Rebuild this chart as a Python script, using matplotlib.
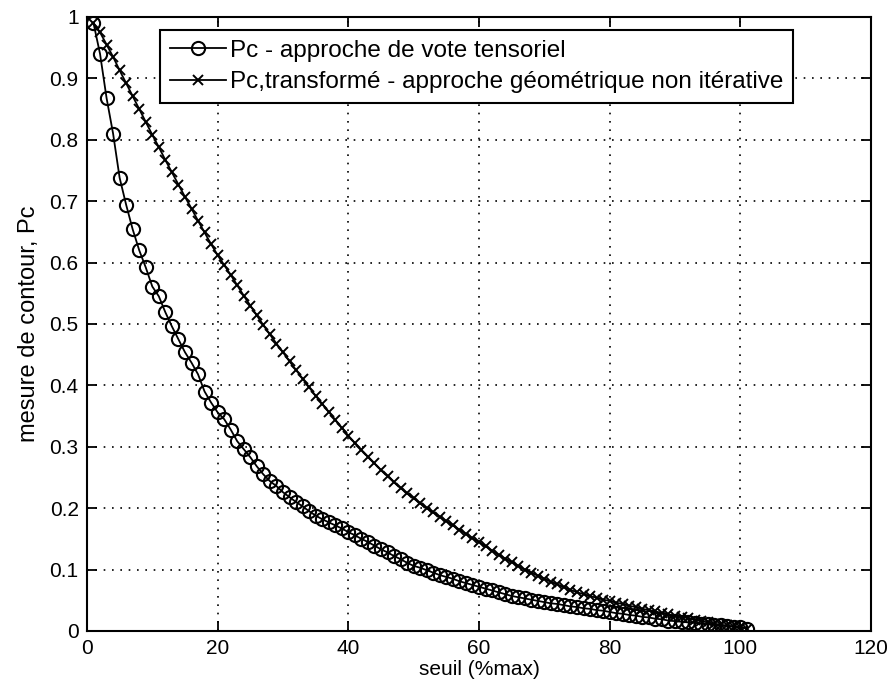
#!/usr/bin/env python3
import matplotlib
matplotlib.use('Agg')
import matplotlib.pyplot as plt

seuil = list(range(1, 102))

pc_vote = [
    0.990, 0.940, 0.868, 0.810, 0.738, 0.694, 0.654, 0.620, 0.592, 0.561,
    0.545, 0.519, 0.496, 0.475, 0.454, 0.437, 0.418, 0.390, 0.372, 0.356,
    0.345, 0.328, 0.309, 0.296, 0.283, 0.268, 0.255, 0.244, 0.236, 0.226,
    0.218, 0.210, 0.203, 0.195, 0.188, 0.182, 0.177, 0.172, 0.167, 0.161,
    0.156, 0.150, 0.145, 0.139, 0.133, 0.128, 0.122, 0.117, 0.111, 0.106,
    0.103, 0.099, 0.095, 0.091, 0.088, 0.085, 0.081, 0.078, 0.075, 0.072,
    0.069, 0.066, 0.063, 0.060, 0.057, 0.055, 0.053, 0.051, 0.049, 0.047,
    0.045, 0.044, 0.042, 0.040, 0.039, 0.037, 0.036, 0.034, 0.033, 0.031,
    0.029, 0.028, 0.026, 0.025, 0.023, 0.022, 0.020, 0.019, 0.017, 0.016,
    0.015, 0.014, 0.013, 0.012, 0.011, 0.010, 0.009, 0.008, 0.007, 0.006,
    0.004,
]

pc_geom = [
    0.990, 0.975, 0.955, 0.935, 0.913, 0.892, 0.871, 0.850, 0.829, 0.808,
    0.788, 0.767, 0.747, 0.727, 0.707, 0.688, 0.668, 0.649, 0.630, 0.612,
    0.596, 0.580, 0.563, 0.546, 0.530, 0.514, 0.498, 0.483, 0.468, 0.454,
    0.439, 0.425, 0.411, 0.397, 0.383, 0.370, 0.357, 0.344, 0.331, 0.318,
    0.306, 0.295, 0.284, 0.273, 0.262, 0.252, 0.242, 0.233, 0.224, 0.216,
    0.208, 0.200, 0.193, 0.186, 0.179, 0.172, 0.165, 0.158, 0.151, 0.145,
    0.138, 0.131, 0.124, 0.118, 0.112, 0.106, 0.100, 0.095, 0.090, 0.085,
    0.080, 0.076, 0.071, 0.067, 0.063, 0.060, 0.057, 0.054, 0.051, 0.049,
    0.046, 0.044, 0.041, 0.039, 0.036, 0.034, 0.032, 0.029, 0.027, 0.025,
    0.023, 0.021, 0.018, 0.016, 0.014, 0.012, 0.010, 0.009, 0.007, 0.006,
    0.004,
]

labels = ['Pc - approche de vote tensoriel',
          'Pc,transformé - approche géométrique non itérative']


def main():
    plt.rcParams['font.family'] = ['Liberation Sans', 'DejaVu Sans']
    fig = plt.figure(figsize=(8.91, 6.95), dpi=100)
    ax = fig.add_axes([0.0976, 0.0921, 0.880, 0.8835])

    ax.plot(seuil, pc_vote, color='black', linewidth=1.3, marker='o',
            markersize=9.5, markerfacecolor='none', markeredgewidth=1.5,
            label=labels[0])
    ax.plot(seuil, pc_geom, color='black', linewidth=1.3, marker='x',
            markersize=7, markeredgewidth=1.4, label=labels[1])

    ax.set_xlim(0, 120)
    ax.set_ylim(0, 1)
    ax.set_xticks(range(0, 121, 20))
    ax.set_yticks([i / 10 for i in range(11)])
    ax.set_yticklabels(['0', '0.1', '0.2', '0.3', '0.4', '0.5', '0.6',
                        '0.7', '0.8', '0.9', '1'])
    ax.tick_params(direction='in', top=True, right=True, length=7,
                   width=1.3, labelsize=15, pad=6)
    for s in ax.spines.values():
        s.set_linewidth(1.5)
    ax.grid(True, color='black', linestyle=(0, (1, 4)), linewidth=1.2)

    ax.set_xlabel('seuil (%max)', fontsize=15, labelpad=1)
    ax.set_ylabel('mesure de contour, Pc', fontsize=17, labelpad=7)

    leg = ax.legend(loc='upper left', bbox_to_anchor=(0.093, 0.979),
                    fontsize=17.5, fancybox=False, framealpha=1,
                    edgecolor='black', borderpad=0.4, handlelength=2.3,
                    handletextpad=0.2, labelspacing=0.4, borderaxespad=0)
    leg.get_frame().set_linewidth(1.5)

    fig.savefig('out.png', dpi=100)


if __name__ == '__main__':
    main()
